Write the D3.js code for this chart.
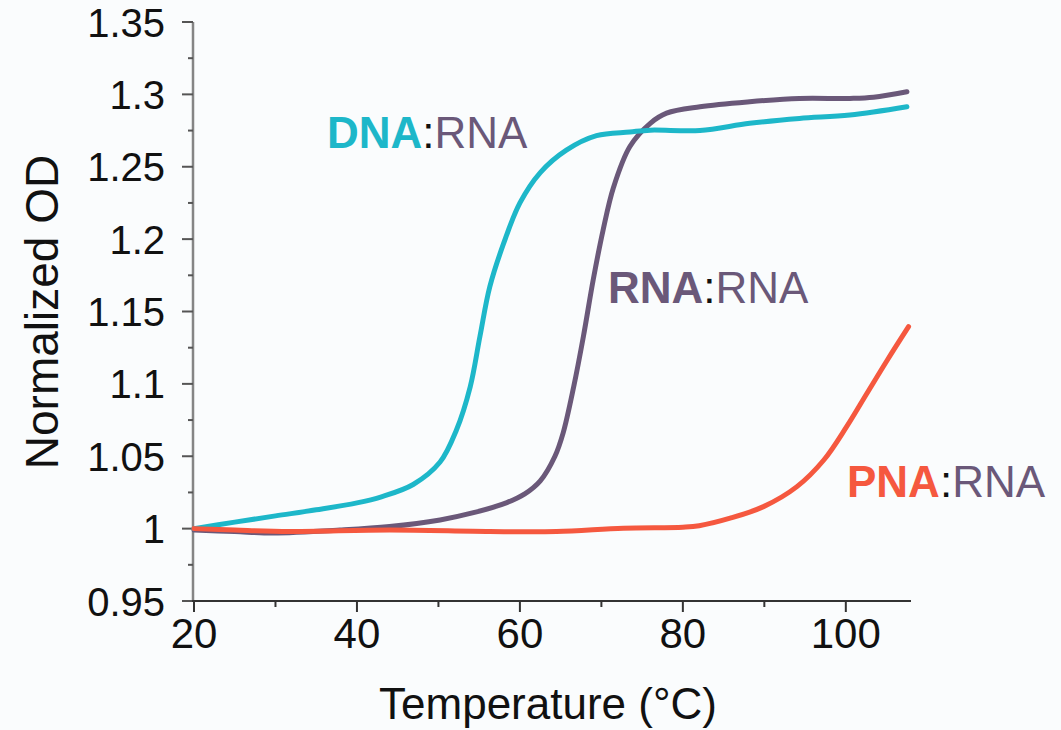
<!DOCTYPE html>
<html>
<head>
<meta charset="utf-8">
<script src="https://cdn.jsdelivr.net/npm/d3@7"></script>
<style>
  html, body { margin: 0; padding: 0; background: #fafcfd; }
  svg { display: block; }
  text { font-family: "Liberation Sans", Arial, sans-serif; }
</style>
</head>
<body>
<svg id="chart" width="1061" height="730"></svg>
<script>
// ---- data ----
const xTicks = [20, 40, 60, 80, 100];
const yTicks = [0.95, 1, 1.05, 1.1, 1.15, 1.2, 1.25, 1.3, 1.35];
const yTickLabels = ["0.95", "1", "1.05", "1.1", "1.15", "1.2", "1.25", "1.3", "1.35"];

const dnaTemp = [20, 25, 30, 35, 40, 43, 46.9, 50.2, 52.2, 53.9, 55.1, 56.3, 58.0, 60.0, 62.5, 65.7, 69.4, 73.5, 76, 82.1, 88.2, 94.3, 100.5, 107.5];
const dnaOD   = [1.000, 1.0045, 1.0088, 1.013, 1.0178, 1.022, 1.0305, 1.046, 1.068, 1.098, 1.133, 1.167, 1.197, 1.225, 1.246, 1.2615, 1.2715, 1.274, 1.2753, 1.275, 1.280, 1.2834, 1.2857, 1.2914];

const rnaTemp = [20, 25, 29.7, 37.9, 44, 50.2, 54.3, 58.4, 60.6, 62.5, 64.3, 65.3, 66.6, 67.8, 69.0, 70.2, 71.5, 73.5, 76, 78, 82.1, 88.2, 94.3, 100.5, 103.4, 107.5];
const rnaOD   = [0.999, 0.998, 0.997, 0.999, 1.0014, 1.006, 1.011, 1.018, 1.024, 1.033, 1.050, 1.066, 1.098, 1.133, 1.172, 1.206, 1.236, 1.264, 1.280, 1.287, 1.2914, 1.2949, 1.2972, 1.2972, 1.298, 1.3018];

const pnaTemp = [20, 25, 31.7, 44, 56.3, 64.5, 72.7, 80, 82, 85.8, 89.9, 94, 97.3, 100.1, 102.6, 105.1, 107.7];
const pnaOD   = [1.000, 0.999, 0.998, 0.999, 0.998, 0.998, 1.0003, 1.001, 1.002, 1.0072, 1.0152, 1.029, 1.0474, 1.0704, 1.0935, 1.1165, 1.1395];

const seriesNames = ["DNA", "RNA", "PNA"];
const seriesColors = ["#1db7c9", "#6a5879", "#f5583f"];

// ---- chart ----
const svg = d3.select("#chart");
const x = d3.scaleLinear().domain([20, 108]).range([194, 911]);
const y = d3.scaleLinear().domain([0.95, 1.35]).range([601, 22]);

// y axis
const yAxis = svg.append("g").attr("transform", "translate(193,0)");
yAxis.append("line").attr("x1", 0).attr("x2", 0).attr("y1", y(1.35)).attr("y2", y(0.95) + 1)
  .attr("stroke", "#858585").attr("stroke-width", 2.5);
const yMinor = d3.range(0, 8).map(i => 0.975 + i * 0.05);
yAxis.selectAll(".ymin").data(yMinor).join("line")
  .attr("x1", -5).attr("x2", 0).attr("y1", d => y(d)).attr("y2", d => y(d))
  .attr("stroke", "#555").attr("stroke-width", 2);
yAxis.selectAll(".ymaj").data(yTicks).join("line")
  .attr("x1", -11).attr("x2", 0).attr("y1", d => y(d)).attr("y2", d => y(d))
  .attr("stroke", "#555").attr("stroke-width", 2);
yAxis.selectAll(".ylab").data(yTicks).join("text")
  .attr("x", -28).attr("y", d => y(d) + 14.5)
  .attr("text-anchor", "end").attr("font-size", 40).attr("fill", "#111")
  .text((d, i) => yTickLabels[i]);

// x axis
const xAxis = svg.append("g").attr("transform", "translate(0,601)");
xAxis.append("line").attr("x1", x(20) - 2).attr("x2", x(108)).attr("y1", 0).attr("y2", 0)
  .attr("stroke", "#333").attr("stroke-width", 2);
const xMinor = [30, 50, 70, 90];
xAxis.selectAll(".xmin").data(xMinor).join("line")
  .attr("x1", d => x(d)).attr("x2", d => x(d)).attr("y1", 0).attr("y2", 6)
  .attr("stroke", "#333").attr("stroke-width", 2);
xAxis.selectAll(".xmaj").data(xTicks).join("line")
  .attr("x1", d => x(d)).attr("x2", d => x(d)).attr("y1", 0).attr("y2", 11)
  .attr("stroke", "#333").attr("stroke-width", 2);
xAxis.selectAll(".xlab").data(xTicks).join("text")
  .attr("x", d => x(d)).attr("y", 47)
  .attr("text-anchor", "middle").attr("font-size", 42).attr("fill", "#111")
  .text(d => d);

// axis titles
svg.append("text").attr("x", 548).attr("y", 719).attr("text-anchor", "middle")
  .attr("font-size", 44).attr("fill", "#111").text("Temperature (°C)");
svg.append("text").attr("transform", "translate(58,312) rotate(-90)")
  .attr("text-anchor", "middle").attr("font-size", 46).attr("fill", "#111").text("Normalized OD");

// lines
const line = d3.line().x(d => x(d[0])).y(d => y(d[1])).curve(d3.curveCatmullRom.alpha(0.5));
const seriesData = [
  d3.zip(dnaTemp, dnaOD),
  d3.zip(rnaTemp, rnaOD),
  d3.zip(pnaTemp, pnaOD)
];
// draw order: purple, teal, red on top
[1, 0, 2].forEach(i => {
  svg.append("path").datum(seriesData[i]).attr("d", line)
    .attr("fill", "none").attr("stroke", seriesColors[i])
    .attr("stroke-width", 5).attr("stroke-linecap", "round").attr("stroke-linejoin", "round");
});

// labels
const labelPos = [[327, 148], [608, 303], [847, 497]];
seriesNames.forEach((name, i) => {
  const t = svg.append("text").attr("x", labelPos[i][0]).attr("y", labelPos[i][1])
    .attr("font-size", 44);
  t.append("tspan").attr("font-weight", 700).attr("fill", seriesColors[i]).text(name);
  t.append("tspan").attr("fill", "#111").text(":");
  t.append("tspan").attr("fill", seriesColors[1]).text("RNA");
});
</script>
</body>
</html>
